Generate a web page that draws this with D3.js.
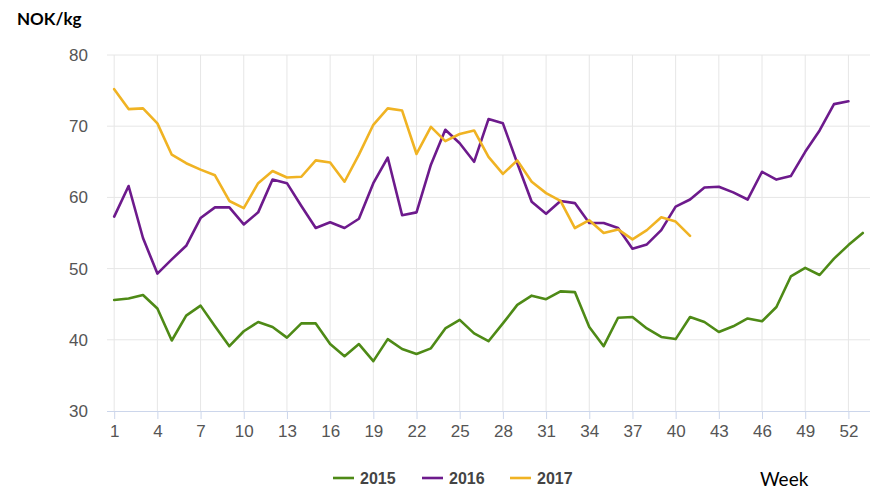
<!DOCTYPE html>
<html>
<head>
<meta charset="utf-8">
<script src="https://cdn.jsdelivr.net/npm/d3@7"></script>
<style>
  body { margin: 0; background: #fff; }
  svg { display: block; }
</style>
</head>
<body>
<svg width="875" height="492"></svg>
<script>
var years = ["2015", "2016", "2017"];
var colors = ["#4e8a16", "#6d1a8c", "#f0b323"];

var v2015 = [45.6, 45.8, 46.3, 44.4, 39.9, 43.4, 44.8, 41.9, 39.1, 41.2,
             42.5, 41.8, 40.3, 42.3, 42.3, 39.4, 37.7, 39.4, 37.0, 40.1,
             38.7, 38.0, 38.8, 41.6, 42.8, 40.9, 39.8, 42.3, 44.9, 46.2,
             45.7, 46.8, 46.7, 41.8, 39.1, 43.1, 43.2, 41.6, 40.4, 40.1,
             43.2, 42.5, 41.1, 41.9, 43.0, 42.6, 44.6, 48.9, 50.1, 49.1,
             51.4, 53.3, 55.0];
var v2016 = [57.3, 61.6, 54.3, 49.3, 51.3, 53.2, 57.1, 58.6, 58.6, 56.2,
             57.9, 62.5, 62.0, 58.8, 55.7, 56.5, 55.7, 57.0, 62.0, 65.6,
             57.5, 57.9, 64.6, 69.5, 67.6, 65.0, 71.0, 70.4, 64.8, 59.4,
             57.7, 59.5, 59.2, 56.4, 56.4, 55.7, 52.8, 53.4, 55.4, 58.7,
             59.7, 61.4, 61.5, 60.7, 59.7, 63.6, 62.5, 63.0, 66.4, 69.4,
             73.1, 73.5];
var v2017 = [75.2, 72.4, 72.5, 70.4, 66.0, 64.8, 63.9, 63.1, 59.5, 58.5,
             62.0, 63.7, 62.8, 62.9, 65.2, 64.9, 62.2, 66.0, 70.2, 72.5,
             72.2, 66.1, 69.9, 67.9, 68.9, 69.4, 65.7, 63.3, 65.2, 62.2,
             60.6, 59.5, 55.7, 56.8, 55.0, 55.5, 54.1, 55.4, 57.2, 56.6,
             54.6];
var series = [v2015, v2016, v2017];

var xTicks = d3.range(1, 54, 3);
var yTicks = [30, 40, 50, 60, 70, 80];

var svg = d3.select("svg");
var plotL = 107, plotR = 870, plotT = 55, plotB = 411;

var x = d3.scaleLinear().domain([0.5, 53.5]).range([plotL, plotR]);
var y = d3.scaleLinear().domain([30, 80]).range([plotB, plotT]);

// vertical grid
svg.append("g")
    .selectAll("line")
    .data(xTicks)
    .enter().append("line")
    .attr("x1", function(d) { return x(d); })
    .attr("x2", function(d) { return x(d); })
    .attr("y1", plotT)
    .attr("y2", plotB)
    .attr("stroke", "#e6e6e6")
    .attr("stroke-width", 1);

// horizontal grid
svg.append("g")
    .selectAll("line")
    .data(yTicks.slice(1))
    .enter().append("line")
    .attr("x1", plotL)
    .attr("x2", plotR)
    .attr("y1", function(d) { return y(d); })
    .attr("y2", function(d) { return y(d); })
    .attr("stroke", "#e6e6e6")
    .attr("stroke-width", 1);

// x axis
var xAxis = svg.append("g")
    .attr("transform", "translate(0," + plotB + ")")
    .call(d3.axisBottom(x).tickValues(xTicks).tickSize(8).tickPadding(6).tickFormat(d3.format("d")));
xAxis.select(".domain").attr("stroke", "#ccd6eb").attr("d", "M" + plotL + ",0.5H" + plotR);
xAxis.selectAll(".tick line").attr("stroke", "#ccd6eb");
xAxis.selectAll("text")
    .attr("fill", "#555")
    .style("font-family", "'Liberation Sans', Arial, sans-serif")
    .style("font-size", "17px");

// y axis
var yAxis = svg.append("g")
    .attr("transform", "translate(" + plotL + ",0)")
    .call(d3.axisLeft(y).tickValues(yTicks).tickSize(0).tickPadding(19));
yAxis.select(".domain").remove();
yAxis.selectAll("text")
    .attr("fill", "#555")
    .style("font-family", "'Liberation Sans', Arial, sans-serif")
    .style("font-size", "17px");

// lines
var line = d3.line()
    .x(function(d, i) { return x(i + 1); })
    .y(function(d) { return y(d); });

svg.append("g")
    .selectAll("path")
    .data(series)
    .enter().append("path")
    .attr("d", line)
    .attr("fill", "none")
    .attr("stroke", function(d, i) { return colors[i]; })
    .attr("stroke-width", 2.6)
    .attr("stroke-linejoin", "round")
    .attr("stroke-linecap", "round");

// legend
var legendX = [333, 422, 510];
var legend = svg.append("g")
    .selectAll("g")
    .data(years)
    .enter().append("g")
    .attr("transform", function(d, i) { return "translate(" + legendX[i] + ",478)"; });
legend.append("line")
    .attr("x1", 0).attr("x2", 21)
    .attr("y1", 0).attr("y2", 0)
    .attr("stroke", function(d, i) { return colors[i]; })
    .attr("stroke-width", 2.6);
legend.append("text")
    .attr("x", 27)
    .attr("y", 6)
    .attr("fill", "#444")
    .style("font-family", "'Liberation Sans', Arial, sans-serif")
    .style("font-size", "16px")
    .style("font-weight", "bold")
    .text(function(d) { return d; });

// titles
svg.append("text")
    .attr("x", 17)
    .attr("y", 25)
    .attr("fill", "#000")
    .style("font-family", "Lato, 'Open Sans', sans-serif")
    .style("font-size", "17px")
    .style("font-weight", "bold")
    .text("NOK/kg");

svg.append("text")
    .attr("x", 760)
    .attr("y", 486)
    .attr("fill", "#000")
    .style("font-family", "Lato, 'Open Sans', sans-serif")
    .style("font-size", "19px")
    .text("Week");
</script>
</body>
</html>
